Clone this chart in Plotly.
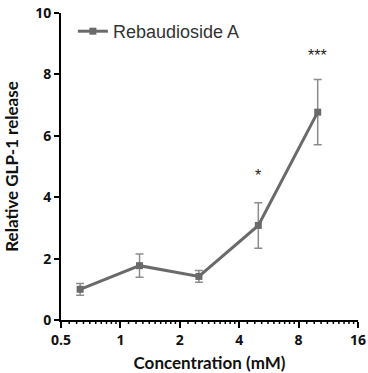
import numpy as np
import plotly.graph_objects as go

# Concentrations (mM) and mean relative GLP-1 release with SEM
concentration = [0.625, 1.25, 2.5, 5, 10]
glp1_release = [1.0, 1.77, 1.42, 3.08, 6.77]
sem = [0.19, 0.38, 0.19, 0.74, 1.06]

# Significance markers
sig_x = [5, 10]
sig_y = [4.7, 8.62]
sig_text = ["*", "***"]

x_ticks = [0.5, 1, 2, 4, 8, 16]
x_tick_text = ["0.5", "1", "2", "4", "8", "16"]
y_ticks = [0, 2, 4, 6, 8, 10]
y_tick_text = ["0", "2", "4", "6", "8", "10"]

# linear minor ticks inside each octave
minor_vals = [a * (1 + 0.1 * k) for a in x_ticks[:-1] for k in range(1, 10)]

line_color = "#6a6a6a"
err_color = "#8c8c8c"
label_font = dict(family="Lato", size=17, color="#111111", weight="bold")
tick_font = dict(family="Open Sans", size=14, color="#111111", weight="bold")
x_range = [np.log10(0.5), np.log10(16)]

fig = go.Figure()
fig.add_trace(go.Scatter(
    x=concentration, y=glp1_release,
    mode="lines+markers",
    name="Rebaudioside A",
    line=dict(color=line_color, width=3),
    marker=dict(symbol="square", size=7, color=line_color),
    error_y=dict(type="data", array=sem, visible=True,
                 color=err_color, thickness=1.5, width=4),
))

for xv, yv, t in zip(sig_x, sig_y, sig_text):
    fig.add_annotation(x=np.log10(xv), y=yv, text=t, showarrow=False,
                       font=dict(family="Liberation Sans", size=16, color="#222222"))

# short minor tick marks below the x axis line
for v in minor_vals:
    fig.add_shape(type="line", xref="x", yref="paper",
                  x0=v, x1=v,
                  ysizemode="pixel", yanchor=0, y0=0, y1=-4,
                  line=dict(color="black", width=1.5), layer="above")

fig.update_layout(
    width=368, height=373,
    margin=dict(l=61, r=10, t=13, b=53),
    plot_bgcolor="white", paper_bgcolor="white",
    showlegend=True,
    legend=dict(x=0.04, y=1.0, xanchor="left", yanchor="top",
                bgcolor="rgba(0,0,0,0)",
                font=dict(family="Liberation Sans", size=18, color="#333333")),
    xaxis=dict(
        type="log", range=x_range,
        tickvals=x_ticks, ticktext=x_tick_text,
        ticks="outside", ticklen=6, tickwidth=2, tickcolor="black",
        showline=True, linecolor="black", linewidth=2,
        showgrid=False, zeroline=False, automargin=False,
        tickfont=tick_font,
        title=dict(text="<b>Concentration (mM)</b>", font=label_font, standoff=12),
    ),
    yaxis=dict(
        range=[0, 10], tickvals=y_ticks, ticktext=y_tick_text,
        ticks="outside", ticklen=5, tickwidth=2, tickcolor="black",
        showline=True, linecolor="black", linewidth=2,
        showgrid=False, zeroline=False, automargin=False,
        tickfont=tick_font,
        title=dict(text="<b>Relative GLP-1 release</b>", font=label_font, standoff=12),
    ),
)

fig.write_html("out.html")
